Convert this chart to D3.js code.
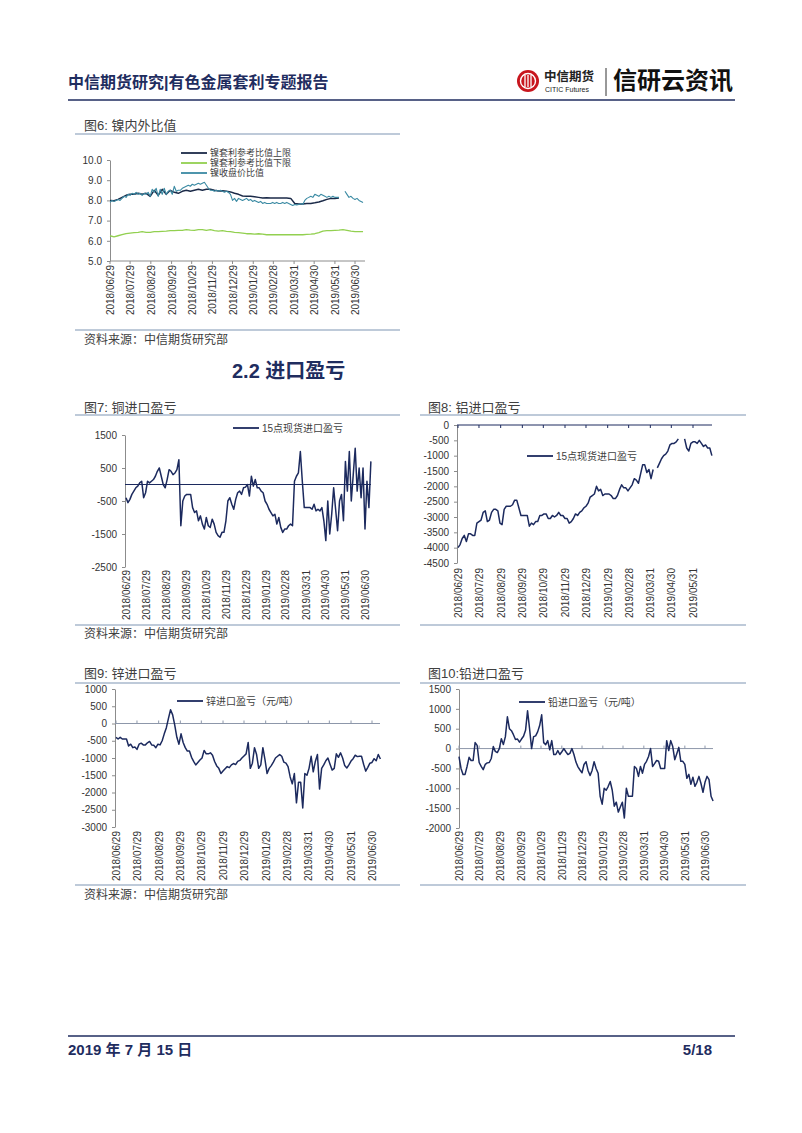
<!DOCTYPE html>
<html>
<head>
<meta charset="utf-8">
<script src="https://cdn.jsdelivr.net/npm/d3@7"></script>
<style>
  body { margin: 0; background: #fff; }
  svg { display: block; font-family: "Liberation Sans", Arial, "Noto Sans CJK SC", sans-serif; }
</style>
</head>
<body>
<div id="page"></div>
<script>
// month tick labels used by every chart
var monthLabels = ["2018/06/29","2018/07/29","2018/08/29","2018/09/29","2018/10/29","2018/11/29",
  "2018/12/29","2019/01/29","2019/02/28","2019/03/31","2019/04/30","2019/05/31","2019/06/30"];

// first sample date, values are read every `step` calendar days from it
var firstDay = "2018/06/29";

// fig 6: nickel ratio (step 6 / 6 / 3 days)
var niUpper = [8.0,7.98,8.05,8.15,8.25,8.3,8.3,8.35,8.3,8.35,
  8.2,8.5,8.25,8.55,8.3,8.5,8.4,8.35,8.45,8.5,
  8.45,8.5,8.55,8.5,8.55,8.55,8.5,8.47,8.48,8.45,
  8.42,8.35,8.3,8.22,8.2,8.2,8.18,8.15,8.12,8.13,
  8.12,8.12,8.12,8.12,8.12,8.1,7.85,7.82,7.82,7.85,
  7.85,7.88,7.92,7.98,8.05,8.1,8.1,8.12];
var niLower = [6.25,6.2,6.25,6.3,6.35,6.38,6.4,6.42,6.45,6.42,
  6.42,6.45,6.45,6.47,6.48,6.5,6.5,6.52,6.52,6.55,
  6.53,6.52,6.55,6.55,6.52,6.55,6.5,6.48,6.5,6.47,
  6.45,6.42,6.4,6.38,6.35,6.35,6.33,6.35,6.33,6.3,
  6.3,6.3,6.3,6.3,6.3,6.3,6.3,6.3,6.3,6.32,
  6.33,6.35,6.4,6.48,6.5,6.5,6.52,6.53,6.55,6.52,
  6.48,6.45,6.45,6.45];
var niRatio = [7.9,8.0,7.95,8.0,8.05,8.0,8.1,8.2,8.15,8.3,
  8.25,8.35,8.3,8.4,8.3,8.35,8.25,8.35,8.3,8.4,
  8.2,8.55,8.4,8.6,8.2,8.55,8.3,8.6,8.3,8.45,
  8.5,8.3,8.7,8.45,8.5,8.5,8.6,8.65,8.7,8.75,
  8.7,8.8,8.75,8.8,8.85,8.8,8.85,8.9,8.75,8.6,
  8.5,8.5,8.45,8.5,8.45,8.5,8.45,8.4,8.45,8.4,
  8.3,8.0,8.1,7.95,8.1,8.05,8.0,8.05,8.1,8.0,
  8.05,7.95,8.0,7.95,7.9,7.95,7.85,7.9,7.85,7.85,
  7.85,7.9,7.85,7.9,7.85,7.85,7.9,7.85,7.9,7.85,
  7.8,7.75,7.8,7.78,7.8,7.85,7.8,8.0,8.1,8.15,
  8.2,8.15,8.3,8.25,8.2,8.3,8.25,8.2,8.15,8.2,
  8.15,8.2,8.15,8.15,8.15,null,null,8.45,8.3,8.15,
  8.2,8.1,8.05,8.1,8.0,7.95,7.9];

// fig 7: copper import profit, every 3 days
var cuImport = [-400,-550,-450,-300,-200,-100,-50,50,100,-400,
  -250,100,50,100,150,250,400,500,250,0,
  -100,150,450,400,300,350,450,750,-1250,-500,
  -350,-300,-300,-300,-700,-850,-800,-1100,-950,-1200,
  -1350,-1000,-1250,-1300,-1050,-1200,-1450,-1550,-1600,-1450,
  -1450,-1100,-500,-400,-600,-750,-450,-250,-200,-300,
  -100,-80,0,-350,250,-50,150,-100,-100,-200,
  -250,-500,-600,-750,-850,-950,-900,-1200,-1000,-1300,
  -1450,-1350,-1350,-1250,-1200,-1250,100,250,350,1000,
  100,-700,-700,-700,-700,-750,-600,-800,-750,-800,
  -700,-1100,-1700,-500,-1500,-900,-100,-750,-1400,-500,
  -300,-1100,700,-200,1000,-500,300,1100,-200,500,
  -400,500,-1350,100,-700,700];

// fig 8: aluminium import profit, every 3 days
var alImport = [-4000,-3900,-3700,-3600,-3800,-3550,-3550,-3600,-3600,-3200,
  -3150,-3100,-2850,-2800,-3150,-3100,-2850,-2750,-2750,-2800,
  -3200,-3250,-2750,-2650,-2650,-2650,-2600,-2450,-2450,-2700,
  -2950,-2950,-2950,-2950,-3300,-3200,-3250,-3150,-3150,-2950,
  -2950,-2900,-2900,-3050,-3050,-2950,-3000,-2950,-2850,-2950,
  -2950,-3050,-3050,-3200,-3150,-3050,-2900,-2950,-2850,-2800,
  -2700,-2650,-2550,-2350,-2300,-2250,-2000,-2150,-2100,-2300,
  -2250,-2250,-2250,-2300,-2400,-2400,-2300,-2100,-1950,-2050,
  -2050,-2150,-2050,-1950,-1750,-1800,-1900,-1600,-1300,-1300,
  -1550,-1450,-1750,-1450,null,-1400,-1250,-1100,-1000,-950,
  -850,-650,-600,-600,-550,-450,null,null,-450,-750,
  -850,-600,-550,-550,-600,-500,-600,-700,-650,-750,
  -750,-1000];

// fig 9: zinc import profit (yuan/t), every 3 days
var znImport = [-400,-450,-400,-450,-450,-450,-650,-600,-700,-680,
  -750,-600,-570,-620,-620,-560,-520,-620,-630,-700,
  -600,-620,-500,-300,-120,150,400,250,-50,-400,
  -600,-300,-550,-700,-800,-800,-980,-1100,-1200,-1130,
  -1060,-1000,-780,-880,-880,-850,-920,-1100,-1230,-1300,
  -1450,-1380,-1310,-1250,-1280,-1200,-1160,-1190,-1100,-1070,
  -1000,-940,-880,-550,-1300,-1150,-700,-900,-1300,-1200,
  -700,-1050,-1450,-1300,-1220,-1120,-1000,-950,-900,-950,
  -1120,-1150,-1250,-1550,-1750,-1450,-2300,-1700,-1700,-2450,
  -1450,-1500,-1300,-950,-1400,-1100,-900,-1900,-1300,-1200,
  -1080,-1000,-1180,-1350,-1300,-880,-980,-850,-1000,-1220,
  -1290,-1200,-1090,-1020,-920,-960,-950,-950,-1180,-1380,
  -1270,-1150,-1130,-1020,-1080,-900,-1030];

// fig 10: lead import profit (yuan/t), every 3 days
var pbImport = [-200,-500,-650,-650,-450,-220,-300,-300,150,80,
  -350,-450,-530,-400,-360,-350,-250,50,-70,-100,
  0,250,100,300,800,500,450,350,230,240,
  160,240,310,460,950,500,0,300,320,420,
  580,850,150,100,200,-30,200,-150,-150,-50,
  -150,-80,0,-80,-150,-120,0,-150,-340,-460,
  -540,-610,-400,-330,-550,-680,-550,-330,-500,-620,
  -1200,-1400,-1000,-1050,-950,-830,-1050,-1450,-1350,-1600,
  -1470,-1350,-1750,-1000,-1200,-1200,-1200,-450,-500,-700,
  -450,-620,-400,-320,-200,0,-450,-380,-300,-320,
  -500,-500,-500,200,-50,200,50,-280,-130,30,
  -320,-320,-400,-750,-650,-900,-720,-950,-850,-700,
  -880,-1100,-850,-700,-780,-1200,-1320];

var navy = "#1c2a5e",
    headerNavy = "#1f2d5f",
    ruleBlue = "#a9b8cd",
    axisGray = "#8c8c8c",
    textGray = "#404040";

var parse = d3.timeParse("%Y/%m/%d"),
    start = parse(firstDay);

var svg = d3.select("#page").append("svg")
    .attr("width", 802)
    .attr("height", 1133);

function toPoints(values, step) {
  return values.map(function(v, i) {
    return {date: d3.timeDay.offset(start, i * step), value: v};
  });
}

// ---------- page header ----------
svg.append("text").attr("x", 68).attr("y", 88)
  .attr("font-size", "16px").attr("font-weight", "bold").attr("fill", headerNavy)
  .text("中信期货研究|有色金属套利专题报告");

var logo = svg.append("g").attr("transform", "translate(528,81)");
logo.append("circle").attr("r", 11).attr("fill", "#c8161e");
logo.append("circle").attr("r", 7.5).attr("fill", "none").attr("stroke", "#fff").attr("stroke-width", 1.4);
[-3, 0, 3].forEach(function(dx) {
  logo.append("line").attr("x1", dx).attr("x2", dx).attr("y1", -6).attr("y2", 6)
    .attr("stroke", "#fff").attr("stroke-width", 1.3);
});
svg.append("text").attr("x", 544).attr("y", 81)
  .attr("font-size", "12.5px").attr("font-weight", "bold").attr("fill", "#222")
  .text("中信期货");
svg.append("text").attr("x", 545).attr("y", 92)
  .attr("font-size", "7px").attr("fill", "#222")
  .text("CITIC Futures");
svg.append("line").attr("x1", 606).attr("x2", 606).attr("y1", 68).attr("y2", 96)
  .attr("stroke", "#333").attr("stroke-width", 1);
svg.append("text").attr("x", 613).attr("y", 89)
  .attr("font-size", "24px").attr("font-weight", "bold").attr("fill", "#111")
  .text("信研云资讯");
svg.append("line").attr("x1", 68).attr("x2", 735).attr("y1", 100).attr("y2", 100)
  .attr("stroke", headerNavy).attr("stroke-width", 1.5);

// ---------- figure frames ----------
function frameTitle(x, y, x1, x2, lineY, label) {
  svg.append("text").attr("x", x).attr("y", y)
    .attr("font-size", "13px").attr("fill", textGray).text(label);
  svg.append("line").attr("x1", x1).attr("x2", x2).attr("y1", lineY).attr("y2", lineY)
    .attr("stroke", ruleBlue).attr("stroke-width", 1.5);
}
function sourceNote(x1, x2, lineY) {
  svg.append("line").attr("x1", x1).attr("x2", x2).attr("y1", lineY).attr("y2", lineY)
    .attr("stroke", ruleBlue).attr("stroke-width", 1.5);
}
function sourceText(y) {
  svg.append("text").attr("x", 84).attr("y", y)
    .attr("font-size", "12px").attr("fill", textGray).text("资料来源：中信期货研究部");
}

frameTitle(84, 130, 75, 400, 134, "图6: 镍内外比值");
sourceNote(75, 400, 330);
sourceText(344);

svg.append("text").attr("x", 232).attr("y", 378)
  .attr("font-size", "20px").attr("font-weight", "bold").attr("fill", headerNavy)
  .text("2.2 进口盈亏");

frameTitle(84, 412, 75, 400, 415, "图7: 铜进口盈亏");
frameTitle(428, 412, 420, 746, 415, "图8: 铝进口盈亏");
sourceNote(75, 400, 625);
sourceNote(420, 746, 625);
sourceText(638);

frameTitle(84, 678, 75, 400, 683, "图9: 锌进口盈亏");
frameTitle(428, 678, 420, 746, 683, "图10:铅进口盈亏");
sourceNote(75, 400, 885);
sourceNote(420, 746, 885);
sourceText(899);

// ---------- chart drawing ----------
function drawChart(o) {
  var x = d3.scaleTime()
      .domain([parse(o.xDates[0]), parse(o.xDates[1])])
      .range(o.xPix);
  var y = d3.scaleLinear().domain(o.yDom).range(o.yPix);
  var g = svg.append("g");
  var ticks = o.ticks.map(parse);

  // value axis
  var ya = g.append("g")
    .attr("transform", "translate(" + o.axisX + ",0)")
    .call(d3.axisLeft(y).tickValues(o.yTicks).tickSize(3).tickSizeOuter(0).tickPadding(5)
      .tickFormat(o.fmt));
  ya.select(".domain").attr("stroke", axisGray);
  ya.selectAll(".tick line").attr("stroke", axisGray);
  ya.selectAll("text").attr("font-size", "10px").attr("fill", "#333")
    .attr("font-family", "'Liberation Sans', Arial, sans-serif");

  // category (date) axis line and its ticks
  var baseY = y(o.base);
  g.append("line").attr("x1", o.axisX).attr("x2", o.axisEnd)
    .attr("y1", baseY).attr("y2", baseY)
    .attr("stroke", o.baseColor).attr("stroke-width", 1);
  if (o.tickDir !== 0) {
    g.selectAll(".xt").data(ticks).enter().append("line")
      .attr("x1", function(d) { return x(d); })
      .attr("x2", function(d) { return x(d); })
      .attr("y1", baseY).attr("y2", baseY + 3 * o.tickDir)
      .attr("stroke", o.baseColor);
  }

  // rotated date labels at the bottom
  var xa = g.append("g")
    .attr("transform", "translate(0," + o.labelY + ")")
    .call(d3.axisBottom(x).tickValues(ticks).tickSize(0)
      .tickFormat(d3.timeFormat("%Y/%m/%d")));
  xa.select(".domain").remove();
  xa.selectAll("text")
    .attr("transform", "rotate(-90)")
    .attr("x", 0).attr("y", 0).attr("dy", "0.35em")
    .attr("text-anchor", "end")
    .attr("font-size", "10px").attr("fill", "#333")
    .attr("font-family", "'Liberation Sans', Arial, sans-serif");

  // series lines
  var line = d3.line()
    .defined(function(d) { return d.value !== null; })
    .x(function(d) { return x(d.date); })
    .y(function(d) { return y(d.value); });
  o.series.forEach(function(s) {
    g.append("path")
      .datum(toPoints(s.values, s.step))
      .attr("fill", "none")
      .attr("stroke", s.color)
      .attr("stroke-width", s.width || 1.5)
      .attr("stroke-linejoin", "round")
      .attr("d", line);
  });

  // legend
  var lf = o.legendFont || 10;
  o.series.forEach(function(s, i) {
    var ly = o.legend[1] + i * 10;
    g.append("line").attr("x1", o.legend[0]).attr("x2", o.legend[0] + 26)
      .attr("y1", ly).attr("y2", ly)
      .attr("stroke", s.color).attr("stroke-width", 1.8);
    g.append("text").attr("x", o.legend[0] + 29).attr("y", ly).attr("dy", "0.35em")
      .attr("font-size", lf + "px").attr("fill", textGray).text(s.name);
  });
}

var intFmt = function(d) { return String(d); };

drawChart({
  xDates: ["2018/06/29", "2019/06/30"], xPix: [110, 355], axisX: 110, axisEnd: 365,
  yDom: [5, 10], yPix: [261, 160], yTicks: [5, 6, 7, 8, 9, 10], fmt: d3.format(".1f"),
  base: 5, baseColor: axisGray, tickDir: 1, labelY: 265,
  ticks: monthLabels, legend: [181, 153], legendFont: 9,
  series: [
    {name: "镍套利参考比值上限", values: niUpper, step: 6, color: "#1b2a48", width: 1.5},
    {name: "镍套利参考比值下限", values: niLower, step: 6, color: "#92d050", width: 1.3},
    {name: "镍收盘价比值", values: niRatio, step: 3, color: "#3a8aa3", width: 1.1}
  ]
});

drawChart({
  xDates: ["2018/06/29", "2019/06/30"], xPix: [126, 365], axisX: 125, axisEnd: 371,
  yDom: [-2500, 1500], yPix: [567, 435], yTicks: [-2500, -1500, -500, 500, 1500], fmt: intFmt,
  base: 0, baseColor: navy, tickDir: 0, labelY: 570,
  ticks: monthLabels, legend: [233, 428],
  series: [{name: "15点现货进口盈亏", values: cuImport, step: 3, color: navy}]
});

drawChart({
  xDates: ["2018/06/29", "2019/05/31"], xPix: [458, 693], axisX: 457, axisEnd: 712,
  yDom: [-4500, 0], yPix: [563, 425], yTicks: d3.range(-4500, 1, 500), fmt: intFmt,
  base: 0, baseColor: navy, tickDir: 1, labelY: 568,
  ticks: monthLabels.slice(0, 12), legend: [527, 456],
  series: [{name: "15点现货进口盈亏", values: alImport, step: 3, color: navy}]
});

drawChart({
  xDates: ["2018/06/29", "2019/06/30"], xPix: [116, 372], axisX: 115, axisEnd: 380,
  yDom: [-3000, 1000], yPix: [827, 689], yTicks: d3.range(-3000, 1001, 500), fmt: intFmt,
  base: 0, baseColor: "#8d97aa", tickDir: -1, labelY: 831,
  ticks: monthLabels, legend: [177, 701],
  series: [{name: "锌进口盈亏（元/吨）", values: znImport, step: 3, color: navy}]
});

drawChart({
  xDates: ["2018/06/29", "2019/06/30"], xPix: [459, 705], axisX: 459, axisEnd: 713,
  yDom: [-2000, 1500], yPix: [828, 689], yTicks: d3.range(-2000, 1501, 500), fmt: intFmt,
  base: 0, baseColor: "#8d97aa", tickDir: -1, labelY: 831,
  ticks: monthLabels, legend: [519, 702],
  series: [{name: "铅进口盈亏（元/吨）", values: pbImport, step: 3, color: navy}]
});

// ---------- page footer ----------
svg.append("line").attr("x1", 68).attr("x2", 735).attr("y1", 1036).attr("y2", 1036)
  .attr("stroke", headerNavy).attr("stroke-width", 1.5);
svg.append("text").attr("x", 68).attr("y", 1055)
  .attr("font-size", "15px").attr("font-weight", "bold").attr("fill", headerNavy)
  .text("2019 年 7 月 15 日");
svg.append("text").attr("x", 712).attr("y", 1055).attr("text-anchor", "end")
  .attr("font-size", "15px").attr("font-weight", "bold").attr("fill", headerNavy)
  .text("5/18");
</script>
</body>
</html>
